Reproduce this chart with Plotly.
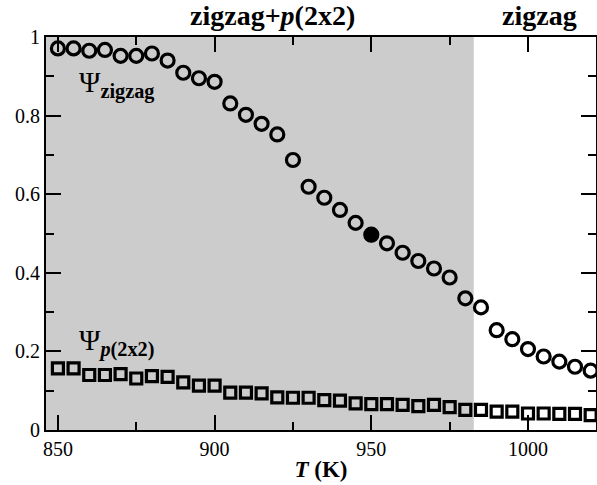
import plotly.graph_objects as go

temps = [850, 855, 860, 865, 870, 875, 880, 885, 890, 895, 900, 905, 910, 915, 920,
         925, 930, 935, 940, 945, 950, 955, 960, 965, 970, 975, 980, 985, 990, 995,
         1000, 1005, 1010, 1015, 1020]
psi_zigzag = [0.971, 0.971, 0.965, 0.967, 0.952, 0.952, 0.958, 0.940, 0.909, 0.895,
              0.886, 0.831, 0.802, 0.779, 0.752, 0.687, 0.619, 0.591, 0.560, 0.527,
              0.497, 0.475, 0.451, 0.430, 0.411, 0.388, 0.335, 0.312, 0.254, 0.231,
              0.206, 0.187, 0.174, 0.161, 0.151]
psi_p2x2 = [0.157, 0.157, 0.140, 0.140, 0.142, 0.131, 0.137, 0.135, 0.121, 0.113,
            0.113, 0.095, 0.095, 0.093, 0.083, 0.082, 0.082, 0.076, 0.075, 0.068,
            0.066, 0.066, 0.064, 0.061, 0.064, 0.058, 0.051, 0.051, 0.047, 0.047,
            0.042, 0.042, 0.041, 0.041, 0.038]
highlight_T = [950]
highlight_psi = [0.497]
phase_boundary = 982.7
x_range = [846.2, 1021.7]
x_ticks = [850, 900, 950, 1000]
x_minor = [875, 925, 975]
y_ticks = [0, 0.2, 0.4, 0.6, 0.8, 1]
y_ticklabels = ["0", "0.2", "0.4", "0.6", "0.8", "1"]
y_minor = [0.1, 0.3, 0.5, 0.7, 0.9]

font = "Liberation Serif"

fig = go.Figure()
fig.add_shape(type="rect", xref="x", yref="y", x0=x_range[0], x1=phase_boundary,
              y0=0, y1=1, fillcolor="#cccccc", line=dict(width=0), layer="below")

fig.add_trace(go.Scatter(x=temps, y=psi_zigzag, mode="markers",
                         marker=dict(symbol="circle-open", size=13, color="black",
                                     line=dict(width=3.2, color="black"))))
fig.add_trace(go.Scatter(x=temps, y=psi_p2x2, mode="markers",
                         marker=dict(symbol="square-open", size=11, color="black",
                                     line=dict(width=3.2, color="black"))))
fig.add_trace(go.Scatter(x=highlight_T, y=highlight_psi, mode="markers",
                         marker=dict(symbol="circle", size=15, color="black")))

# phase labels above the frame
fig.add_annotation(x=(272 - 46) / 550, y=1.0, xref="paper", yref="paper", yshift=4,
                   text="<b>zigzag+<i>p</i>(2x2)</b>", showarrow=False,
                   xanchor="center", yanchor="bottom",
                   font=dict(family=font, size=28, color="black"))
fig.add_annotation(x=(539 - 46) / 550, y=1.0, xref="paper", yref="paper", yshift=4,
                   text="<b>zigzag</b>", showarrow=False,
                   xanchor="center", yanchor="bottom",
                   font=dict(family=font, size=28, color="black"))

# series labels
fig.add_annotation(x=856.0, y=0.878, xref="x", yref="y", xanchor="left", yanchor="middle",
                   text="Ψ<sub><b>zigzag</b></sub>", showarrow=False,
                   font=dict(family=font, size=29, color="black"))
fig.add_annotation(x=856.0, y=0.222, xref="x", yref="y", xanchor="left", yanchor="middle",
                   text="Ψ<sub><b><i>p</i>(2x2)</b></sub>", showarrow=False,
                   font=dict(family=font, size=29, color="black"))

axis_common = dict(showgrid=False, zeroline=False, showline=True, linecolor="black",
                   linewidth=2, mirror="allticks", ticks="inside", tickcolor="black",
                   tickwidth=1.5, ticklen=15,
                   tickfont=dict(family=font, size=20, color="black"))

fig.update_xaxes(range=x_range, tickmode="array", tickvals=x_ticks,
                 minor=dict(tickvals=x_minor, ticks="inside", ticklen=8,
                            tickcolor="black", tickwidth=1.5),
                 title=dict(text="<b><i>T</i> (K)</b>",
                            font=dict(family=font, size=23, color="black"),
                            standoff=2),
                 **axis_common)
fig.update_yaxes(range=[0, 1], tickmode="array", tickvals=y_ticks, ticktext=y_ticklabels,
                 minor=dict(tickvals=y_minor, ticks="inside", ticklen=8,
                            tickcolor="black", tickwidth=1.5),
                 **axis_common)

fig.update_layout(width=597, height=485, margin=dict(l=46, r=1, t=37, b=55, autoexpand=False),
                  plot_bgcolor="white", paper_bgcolor="white", showlegend=False)

fig.write_html("out.html", config={"displayModeBar": False},
               post_script="document.body.style.margin='0';document.body.style.overflow='hidden';")
